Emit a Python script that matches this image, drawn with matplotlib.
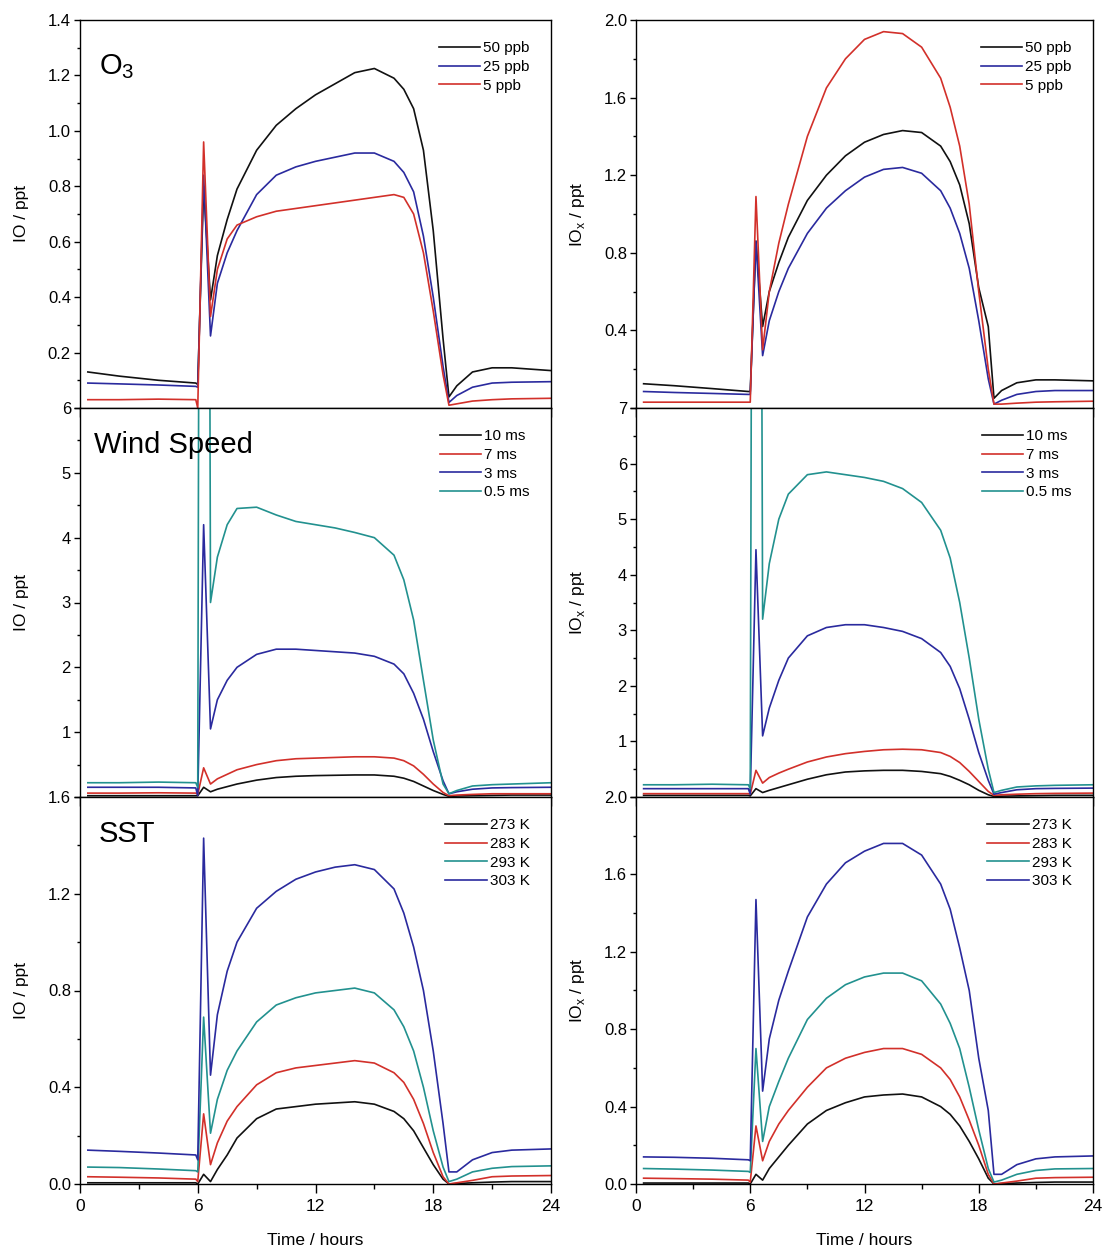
import matplotlib
matplotlib.use("Agg")
import matplotlib.pyplot as plt
from matplotlib.ticker import MultipleLocator

plt.rcParams['font.family'] = ['Liberation Sans', 'DejaVu Sans']

# time grid (hours) shared by all curves
t = [0.4, 2, 4, 5.9, 6.0, 6.3, 6.65, 7, 7.5, 8, 9, 10, 11, 12, 13, 14, 15, 16,
     16.5, 17, 17.5, 18, 18.5, 18.8, 19.2, 20, 21, 22, 24]

# --- O3 runs ---
io_o3_50 = [0.13, 0.115, 0.10, 0.09, 0.085, 0.80, 0.39, 0.55, 0.68, 0.79, 0.93, 1.02, 1.08, 1.13, 1.17,
            1.21, 1.225, 1.19, 1.15, 1.08, 0.93, 0.64, 0.25, 0.04, 0.08, 0.13, 0.145, 0.145, 0.135]
io_o3_25 = [0.09, 0.087, 0.083, 0.078, 0.075, 0.84, 0.26, 0.45, 0.56, 0.64, 0.77, 0.84, 0.87, 0.89, 0.905,
            0.92, 0.92, 0.89, 0.85, 0.78, 0.62, 0.40, 0.15, 0.02, 0.045, 0.075, 0.09, 0.093, 0.095]
io_o3_5 = [0.03, 0.03, 0.032, 0.03, 0.0, 0.96, 0.33, 0.50, 0.61, 0.66, 0.69, 0.71, 0.72, 0.73, 0.74,
           0.75, 0.76, 0.77, 0.76, 0.70, 0.56, 0.35, 0.12, 0.01, 0.015, 0.025, 0.03, 0.033, 0.035]

iox_o3_50 = [0.125, 0.115, 0.10, 0.085, 0.085, 0.86, 0.42, 0.60, 0.75, 0.88, 1.07, 1.20, 1.30, 1.37, 1.41,
             1.43, 1.42, 1.35, 1.27, 1.15, 0.95, 0.62, 0.42, 0.05, 0.09, 0.13, 0.145, 0.145, 0.14]
iox_o3_25 = [0.085, 0.08, 0.075, 0.07, 0.07, 0.86, 0.27, 0.45, 0.60, 0.72, 0.90, 1.03, 1.12, 1.19, 1.23,
             1.24, 1.21, 1.12, 1.03, 0.90, 0.72, 0.45, 0.15, 0.02, 0.04, 0.07, 0.085, 0.09, 0.09]
iox_o3_5 = [0.03, 0.03, 0.03, 0.03, 0.03, 1.09, 0.30, 0.60, 0.85, 1.05, 1.40, 1.65, 1.80, 1.90, 1.94,
            1.93, 1.86, 1.70, 1.55, 1.35, 1.05, 0.60, 0.20, 0.02, 0.02, 0.025, 0.03, 0.032, 0.035]

# --- wind speed runs ---
io_ws_10 = [0.02, 0.02, 0.02, 0.02, 0.02, 0.15, 0.08, 0.12, 0.16, 0.20, 0.26, 0.30, 0.32, 0.33, 0.335,
            0.34, 0.34, 0.32, 0.29, 0.24, 0.17, 0.10, 0.04, 0.01, 0.015, 0.02, 0.025, 0.03, 0.03]
io_ws_7 = [0.06, 0.06, 0.065, 0.06, 0.04, 0.45, 0.20, 0.28, 0.35, 0.42, 0.50, 0.56, 0.59, 0.60, 0.61,
           0.62, 0.62, 0.60, 0.56, 0.48, 0.35, 0.20, 0.07, 0.02, 0.03, 0.04, 0.05, 0.05, 0.05]
io_ws_3 = [0.15, 0.15, 0.15, 0.14, 0.02, 4.2, 1.05, 1.5, 1.8, 2.0, 2.2, 2.28, 2.28, 2.26, 2.24,
           2.22, 2.17, 2.05, 1.9, 1.6, 1.2, 0.7, 0.25, 0.05, 0.08, 0.12, 0.14, 0.145, 0.15]
io_ws_05 = [0.22, 0.22, 0.23, 0.22, 0.15, 40, 3.0, 3.7, 4.2, 4.45, 4.47, 4.35, 4.25, 4.2, 4.15,
            4.08, 4.0, 3.73, 3.35, 2.73, 1.8, 0.88, 0.2, 0.05, 0.1, 0.17, 0.19, 0.2, 0.22]

iox_ws_10 = [0.03, 0.03, 0.03, 0.03, 0.02, 0.15, 0.08, 0.12, 0.17, 0.22, 0.32, 0.40, 0.45, 0.47, 0.48,
             0.48, 0.46, 0.42, 0.37, 0.30, 0.22, 0.12, 0.04, 0.01, 0.015, 0.02, 0.025, 0.03, 0.03]
iox_ws_7 = [0.06, 0.06, 0.06, 0.06, 0.05, 0.48, 0.25, 0.35, 0.43, 0.50, 0.63, 0.72, 0.78, 0.82, 0.85,
            0.86, 0.85, 0.80, 0.73, 0.62, 0.46, 0.28, 0.10, 0.03, 0.04, 0.05, 0.06, 0.065, 0.07]
iox_ws_3 = [0.15, 0.15, 0.15, 0.15, 0.05, 4.45, 1.1, 1.6, 2.1, 2.5, 2.9, 3.05, 3.1, 3.1, 3.05,
            2.98, 2.85, 2.6, 2.35, 1.95, 1.4, 0.8, 0.3, 0.05, 0.08, 0.13, 0.15, 0.155, 0.16]
iox_ws_05 = [0.22, 0.22, 0.23, 0.22, 0.15, 40, 3.2, 4.2, 5.0, 5.45, 5.8, 5.85, 5.8, 5.75, 5.68,
             5.55, 5.3, 4.8, 4.3, 3.5, 2.5, 1.4, 0.5, 0.08, 0.12, 0.18, 0.2, 0.21, 0.22]

# --- sea surface temperature runs ---
io_sst_273 = [0.005, 0.005, 0.005, 0.005, 0.0, 0.04, 0.01, 0.06, 0.12, 0.19, 0.27, 0.31, 0.32, 0.33, 0.335,
              0.34, 0.33, 0.30, 0.27, 0.22, 0.15, 0.08, 0.02, 0.0, 0.002, 0.005, 0.008, 0.01, 0.01]
io_sst_283 = [0.03, 0.028, 0.025, 0.02, 0.01, 0.29, 0.08, 0.17, 0.26, 0.32, 0.41, 0.46, 0.48, 0.49, 0.50,
              0.51, 0.50, 0.46, 0.42, 0.35, 0.25, 0.13, 0.03, 0.0, 0.005, 0.015, 0.03, 0.033, 0.035]
io_sst_293 = [0.07, 0.068, 0.062, 0.055, 0.05, 0.69, 0.21, 0.35, 0.47, 0.55, 0.67, 0.74, 0.77, 0.79, 0.80,
              0.81, 0.79, 0.72, 0.65, 0.55, 0.40, 0.22, 0.07, 0.01, 0.02, 0.05, 0.065, 0.072, 0.075]
io_sst_303 = [0.14, 0.135, 0.128, 0.12, 0.10, 1.43, 0.45, 0.70, 0.88, 1.00, 1.14, 1.21, 1.26, 1.29, 1.31,
              1.32, 1.30, 1.22, 1.12, 0.98, 0.80, 0.55, 0.25, 0.05, 0.05, 0.10, 0.13, 0.14, 0.145]

iox_sst_273 = [0.005, 0.005, 0.005, 0.005, 0.0, 0.05, 0.02, 0.08, 0.14, 0.20, 0.31, 0.38, 0.42, 0.45, 0.46,
               0.465, 0.45, 0.40, 0.36, 0.30, 0.22, 0.13, 0.03, 0.0, 0.002, 0.005, 0.008, 0.01, 0.01]
iox_sst_283 = [0.03, 0.028, 0.025, 0.02, 0.01, 0.30, 0.12, 0.22, 0.31, 0.38, 0.50, 0.60, 0.65, 0.68, 0.70,
               0.70, 0.67, 0.60, 0.54, 0.45, 0.33, 0.20, 0.05, 0.0, 0.005, 0.015, 0.03, 0.033, 0.035]
iox_sst_293 = [0.08, 0.077, 0.072, 0.065, 0.06, 0.70, 0.22, 0.40, 0.53, 0.65, 0.85, 0.96, 1.03, 1.07, 1.09,
               1.09, 1.05, 0.93, 0.83, 0.70, 0.50, 0.28, 0.08, 0.01, 0.02, 0.05, 0.07, 0.078, 0.08]
iox_sst_303 = [0.14, 0.138, 0.133, 0.125, 0.12, 1.47, 0.48, 0.75, 0.95, 1.10, 1.38, 1.55, 1.66, 1.72, 1.76,
               1.76, 1.70, 1.55, 1.42, 1.22, 1.00, 0.65, 0.38, 0.05, 0.05, 0.10, 0.13, 0.14, 0.145]

BLACK = '#111111'
BLUE = '#2a2a9e'
RED = '#d2302a'
TEAL = '#22918f'

fig = plt.figure(figsize=(11.06, 12.46), dpi=100)

lefts = [80 / 1106, 636 / 1106]
widths = [471 / 1106, 457 / 1106]
bottoms = [(1246 - 408) / 1246, (1246 - 797) / 1246, (1246 - 1184) / 1246]
heights = [388 / 1246, 389 / 1246, 387 / 1246]

panels = [
    # (row, col, series, ymax, major, minor, fmt, hide bottom label, ylabel)
    (0, 0, [(io_o3_50, BLACK, '50 ppb'), (io_o3_25, BLUE, '25 ppb'), (io_o3_5, RED, '5 ppb')],
     1.4, 0.2, 0.1, '{:.1f}', True, 'IO / ppt'),
    (0, 1, [(iox_o3_50, BLACK, '50 ppb'), (iox_o3_25, BLUE, '25 ppb'), (iox_o3_5, RED, '5 ppb')],
     2.0, 0.4, 0.2, '{:.1f}', True, 'IO$_\\mathregular{x}$ / ppt'),
    (1, 0, [(io_ws_10, BLACK, '10 ms'), (io_ws_7, RED, '7 ms'), (io_ws_3, BLUE, '3 ms'), (io_ws_05, TEAL, '0.5 ms')],
     6, 1, 0.5, '{:.0f}', True, 'IO / ppt'),
    (1, 1, [(iox_ws_10, BLACK, '10 ms'), (iox_ws_7, RED, '7 ms'), (iox_ws_3, BLUE, '3 ms'), (iox_ws_05, TEAL, '0.5 ms')],
     7, 1, 0.5, '{:.0f}', True, 'IO$_\\mathregular{x}$ / ppt'),
    (2, 0, [(io_sst_273, BLACK, '273 K'), (io_sst_283, RED, '283 K'), (io_sst_293, TEAL, '293 K'), (io_sst_303, BLUE, '303 K')],
     1.6, 0.4, 0.2, '{:.1f}', False, 'IO / ppt'),
    (2, 1, [(iox_sst_273, BLACK, '273 K'), (iox_sst_283, RED, '283 K'), (iox_sst_293, TEAL, '293 K'), (iox_sst_303, BLUE, '303 K')],
     2.0, 0.4, 0.2, '{:.1f}', False, 'IO$_\\mathregular{x}$ / ppt'),
]

titles = {0: ('O$_\\mathregular{3}$', 0.04, 0.88), 1: ('Wind Speed', 0.03, 0.905), 2: ('SST', 0.04, 0.905)}

for row, col, series, ymax, major, minor, fmt, hide0, ylab in panels:
    ax = fig.add_axes([lefts[col], bottoms[row], widths[col], heights[row]])
    for vals, c, lab in series:
        ax.plot(t, vals, color=c, lw=1.2, label=lab)
    ax.set_xlim(0, 24)
    ax.set_ylim(0, ymax)
    ax.xaxis.set_major_locator(MultipleLocator(6))
    ax.xaxis.set_minor_locator(MultipleLocator(3))
    ax.yaxis.set_minor_locator(MultipleLocator(minor))
    n = int(round(ymax / major))
    ticks = [i * major for i in range(n + 1)]
    labels = [fmt.format(v) for v in ticks]
    if hide0:
        labels[0] = ''
    ax.set_yticks(ticks)
    ax.set_yticklabels(labels)
    ax.tick_params(axis='y', which='major', direction='out', length=4.5, width=1, labelsize=12, pad=2)
    ax.tick_params(axis='y', which='minor', direction='out', length=2.5, width=1)
    ax.tick_params(axis='x', which='major', direction='out', length=6.5, width=1, labelsize=12.5, pad=4)
    ax.tick_params(axis='x', which='minor', direction='out', length=3.5, width=1)
    for s in ax.spines.values():
        s.set_linewidth(1.0)
    if row < 2:
        ax.set_xticklabels([])
    else:
        ax.set_xlabel('Time / hours', fontsize=12.5, labelpad=14)
    ax.set_ylabel(ylab, fontsize=12.5)
    ax.yaxis.set_label_coords(-0.108, 0.5)
    ax.legend(loc='upper right', frameon=False, fontsize=11, handlelength=2.7,
              handletextpad=0.2, labelspacing=0.3, borderaxespad=1.0)
    if col == 0:
        txt, tx, ty = titles[row]
        ax.text(tx, ty, txt, transform=ax.transAxes, fontsize=21, va='center', ha='left')

fig.savefig('out.png', dpi=100)
